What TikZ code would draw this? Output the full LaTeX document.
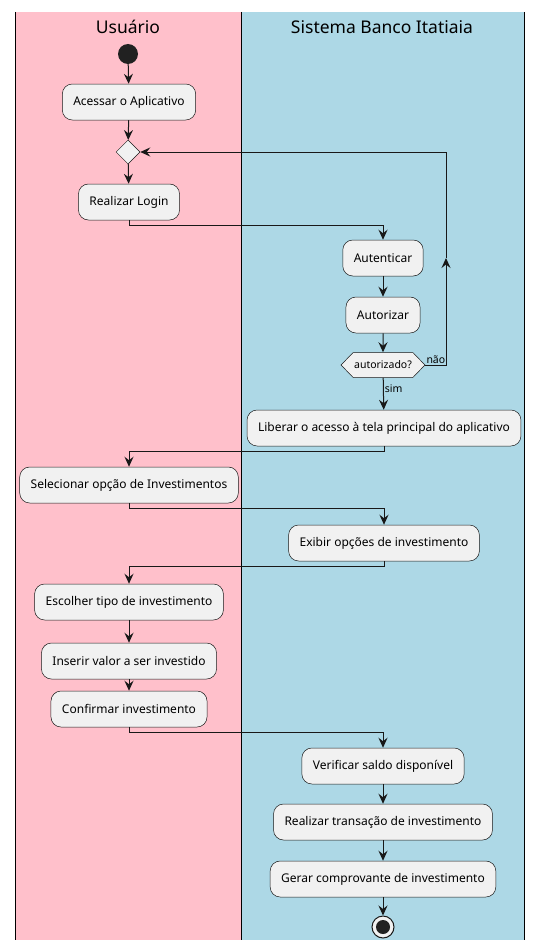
\documentclass[tikz,border=0pt]{standalone}
\usepackage{fontspec}
\setmainfont{Noto Sans}
\usetikzlibrary{arrows.meta,shapes.geometric,shapes.symbols}
\definecolor{lanepink}{HTML}{FFC0CB}
\definecolor{laneblue}{HTML}{ADD8E6}
\definecolor{actfill}{HTML}{F1F1F1}
\definecolor{actline}{HTML}{181818}

\begin{document}
\begin{tikzpicture}[x=1pt,y=-1pt]
  \tikzset{
    acao/.style={draw=actline,fill=actfill,rounded corners=10pt,line width=0.5pt,
      minimum height=36pt,inner xsep=11pt,font=\fontsize{12}{14}\selectfont},
    fluxo/.style={draw=actline,line width=1pt,-{Stealth[length=10pt,width=9pt,inset=3.5pt]}},
    raia/.style={font=\fontsize{17.5}{20}\selectfont},
    rotulo/.style={font=\fontsize{10.5}{12}\selectfont,inner sep=1pt}
  }
  \useasboundingbox (0,0) rectangle (542,950);
  % raias
  \fill[lanepink] (15,12) rectangle (241,940);
  \fill[laneblue] (241,12) rectangle (524,940);
  \foreach \x in {15,241,524}
    \draw[black,line width=1pt] (\x,12) -- (\x,940);
  \node[raia] (usuario) at (128,27) {Usuário};
  \node[raia] (sistema) at (382,27) {Sistema Banco Itatiaia};

  % usuario
  \node[circle,fill=black!87,minimum size=20pt,inner sep=0pt] (inicio) at (128,54) {};
  \node[acao] (acessar) at (129,102) {Acessar o Aplicativo};
  \node[diamond,draw=actline,fill=actfill,line width=0.5pt,minimum size=24pt,inner sep=0pt] (merge) at (128,152) {};
  \node[acao] (login) at (129,202) {Realizar Login};

  % sistema
  \node[acao] (autenticar) at (383,258) {Autenticar};
  \node[acao] (autorizar) at (383,315) {Autorizar};
  \node[signal,signal to=east and west,signal pointer angle=92,draw=actline,fill=actfill,line width=0.5pt,
    minimum height=25pt,inner xsep=1pt,font=\fontsize{10.5}{12}\selectfont] (autorizado) at (383,365) {autorizado?};
  \node[acao] (liberar) at (384,428) {Liberar o acesso à tela principal do aplicativo};

  \node[acao] (selecionar) at (129,485) {Selecionar opção de Investimentos};
  \node[acao] (exibir) at (384,543) {Exibir opções de investimento};
  \node[acao] (escolher) at (129,602) {Escolher tipo de investimento};
  \node[acao] (inserir) at (129,661) {Inserir valor a ser investido};
  \node[acao] (confirmar) at (129,709) {Confirmar investimento};

  \node[acao] (verificar) at (383,766) {Verificar saldo disponível};
  \node[acao] (transacao) at (383,822) {Realizar transação de investimento};
  \node[acao] (comprovante) at (383,879) {Gerar comprovante de investimento};
  \node[circle,draw=actline,line width=1pt,fill=actfill,minimum size=22pt,inner sep=0pt] (fim) at (383,927) {};
  \fill[black!87] (fim) circle (7pt);

  % fluxos
  \draw[fluxo] (inicio) -- (acessar);
  \draw[fluxo] (acessar) -- (merge);
  \draw[fluxo] (merge) -- (login);
  \draw[fluxo] (login.south) -- ++(0,5) -| (autenticar.north);
  \draw[fluxo] (autenticar) -- (autorizar);
  \draw[fluxo] (autorizar) -- (autorizado);
  \coordinate (volta) at (446,258);
  \draw[fluxo] (autorizado.east) -| (volta);
  \draw[fluxo] (volta) |- (merge.east);
  \node[rotulo,anchor=south west] (nao) at (autorizado.east) {não};
  \draw[fluxo] (autorizado) -- node[rotulo,right,pos=0.35] (sim) {sim} (liberar);
  \draw[fluxo] (liberar.south) -- ++(0,5) -| (selecionar.north);
  \draw[fluxo] (selecionar.south) -- ++(0,5) -| (exibir.north);
  \draw[fluxo] (exibir.south) -- ++(0,5) -| (escolher.north);
  \draw[fluxo] (escolher) -- (inserir);
  \draw[fluxo] (inserir) -- (confirmar);
  \draw[fluxo] (confirmar.south) -- ++(0,5) -| (verificar.north);
  \draw[fluxo] (verificar) -- (transacao);
  \draw[fluxo] (transacao) -- (comprovante);
  \draw[fluxo] (comprovante) -- (fim);
\end{tikzpicture}
\end{document}
